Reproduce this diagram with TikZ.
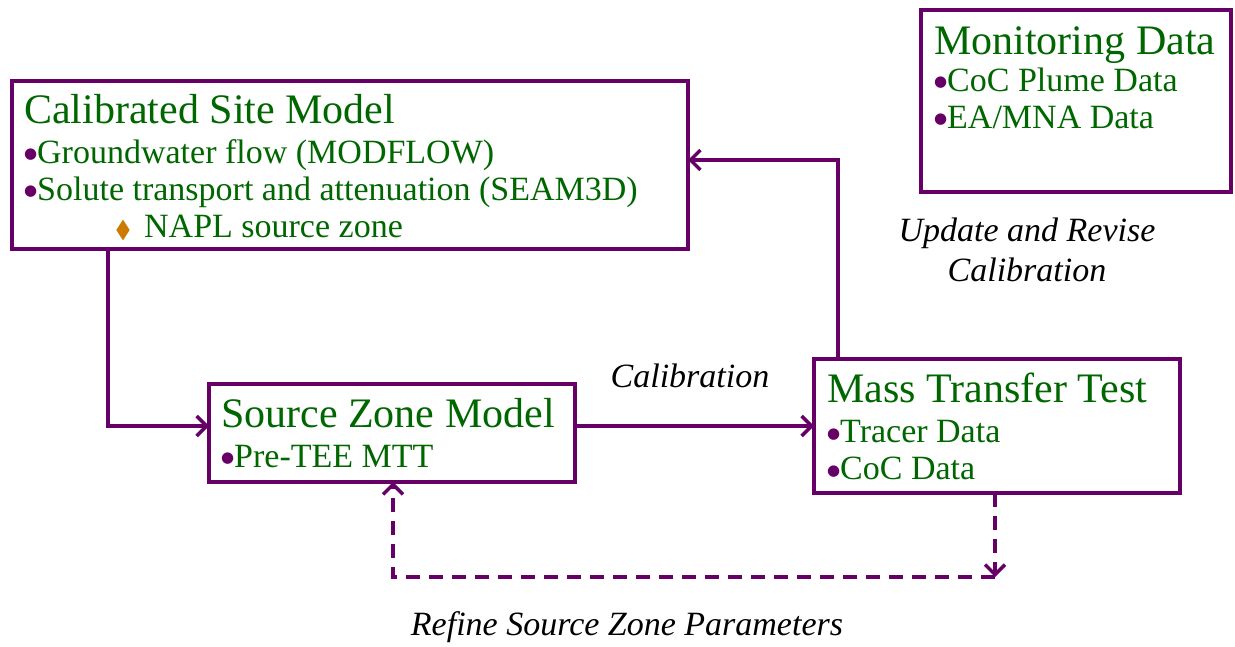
\documentclass[tikz,border=0pt]{standalone}
\usepackage{amssymb}
\usepackage{fontspec}
\setmainfont{Liberation Serif}
\newfontfamily\symfont{DejaVu Sans}
\usetikzlibrary{arrows.meta,positioning}
\definecolor{mpurple}{RGB}{102,0,102}
\definecolor{mgreen}{RGB}{0,102,0}
\definecolor{morange}{RGB}{204,122,0}
\newcommand{\bul}{\makebox[13pt][l]{\smash{\raisebox{4.5pt}{\symfont\fontsize{15}{0}\selectfont\color{mpurple}●}}}}
\newcommand{\ttl}[1]{{\fontsize{42}{37}\selectfont #1}}
\tikzset{
  box/.style={draw=mpurple, line width=4pt, anchor=north west, inner sep=0pt, outer sep=0pt},
  boxtext/.style={anchor=north west, inner sep=0pt, align=left, text=mgreen,
    font=\fontsize{34}{37}\selectfont},
  conn/.style={draw=mpurple, line width=3.5pt, -{Straight Barb[length=10pt,width=20pt,line width=3.5pt]}},
  dconn/.style={conn, dash pattern=on 14pt off 9pt},
  note/.style={align=center, font=\fontsize{34}{40}\selectfont\itshape}
}
\begin{document}
\begin{tikzpicture}[x=1pt,y=-1pt]
    \useasboundingbox (0,0) rectangle (1235,647);

    % boxes
    \node[box, minimum width=676pt, minimum height=168pt] (csm) at (12,81) {};
    \node[box, minimum width=310pt, minimum height=182pt] (md) at (921,10) {};
    \node[box, minimum width=366pt, minimum height=98pt] (szm) at (209,384) {};
    \node[box, minimum width=366pt, minimum height=134pt] (mtt) at (814,359) {};

    % box contents
    \node[boxtext] (csmtxt) at (24,94) {\ttl{Calibrated Site Model}\\[3pt]
        \bul Groundwater flow (MODFLOW)\\
        \bul Solute transport and attenuation (SEAM3D)\\
        \hspace*{91pt}{\color{morange}\fontsize{24}{0}\selectfont$\blacklozenge$}\hspace{13pt}NAPL source zone};
    \node[boxtext] (mdtxt) at (934,26) {\ttl{Monitoring Data}\\
        \bul CoC Plume Data\\
        \bul EA/MNA Data};
    \node[boxtext] (szmtxt) at (221,398) {\ttl{Source Zone Model}\\[3pt]
        \bul Pre-TEE MTT};
    \node[boxtext] (mtttxt) at (827,373) {\ttl{Mass Transfer Test}\\[3pt]
        \bul Tracer Data\\
        \bul CoC Data};

    % connectors
    \draw[conn] ([xshift=96pt]csm.south west) |- (szm.west |- mtt.west);
    \draw[conn] (szm.east |- mtt.west) -- (mtt.west);
    \draw[conn] ([xshift=24pt]mtt.north west) |- ([yshift=5pt]csm.east);
    \coordinate (turn) at (995,577);
    \draw[dconn] ([xshift=181pt]mtt.south west) -- (turn);
    \draw[dconn] (turn) -| ([xshift=184pt]szm.south west);

    % labels
    \node[note] (calib) at (690,376) {Calibration};
    \node[note] (update) at (1027,250) {Update and Revise\\Calibration};
    \node[note] (refine) at (627,627) {Refine Source Zone Parameters};
\end{tikzpicture}
\end{document}
